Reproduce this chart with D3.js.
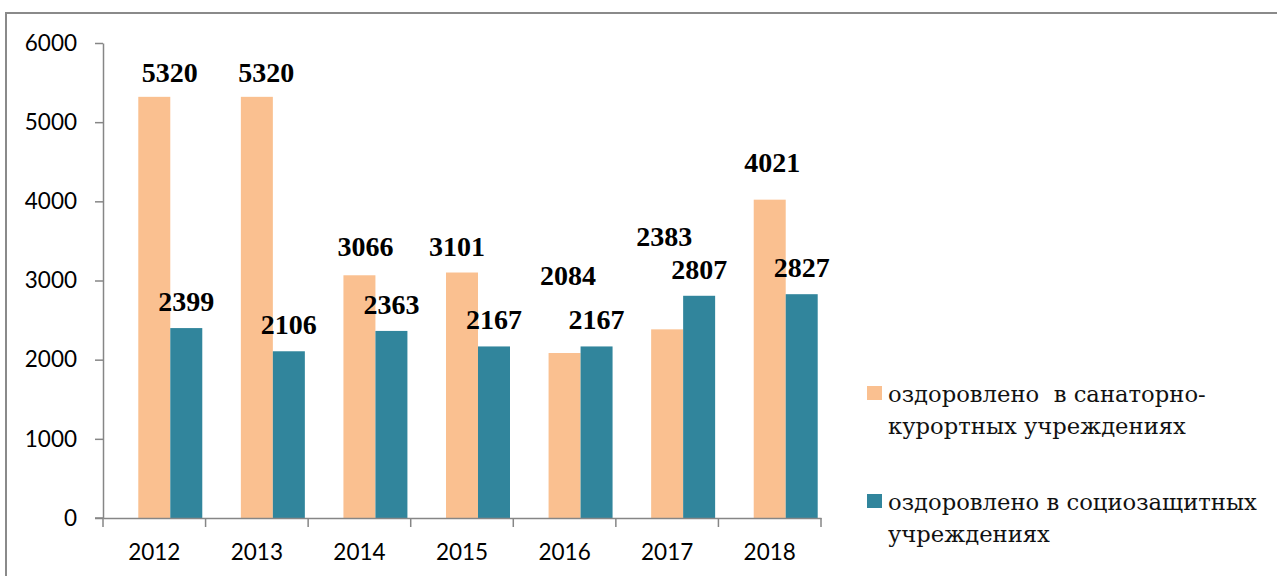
<!DOCTYPE html>
<html>
<head>
<meta charset="utf-8">
<script src="https://cdn.jsdelivr.net/npm/d3@7"></script>
<style>
  html, body { margin: 0; padding: 0; background: #fff; }
  svg { display: block; }
</style>
</head>
<body>
<svg id="chart" width="1277" height="576"></svg>
<script>
// ---- data ----
const years = ["2012", "2013", "2014", "2015", "2016", "2017", "2018"];
const sanatorium = [5320, 5320, 3066, 3101, 2084, 2383, 4021];
const social = [2399, 2106, 2363, 2167, 2167, 2807, 2827];
const yTicks = [0, 1000, 2000, 3000, 4000, 5000, 6000];
const seriesNames = [
  ["оздоровлено  в санаторно-", "курортных учреждениях"],
  ["оздоровлено в социозащитных", "учреждениях"]
];
// ---- layout (label nudges, px) ----
const sanLabelDx = [15.5, 9.5, 6, -5, 3.5, -3, 2.5];
const sanLabelDy = [2, 2, -2, 0, -51, -66, -10.5];

const colors = ["#FAC090", "#31859C"];
const axisColor = "#868686";

const svg = d3.select("#chart");

// frame
svg.append("path")
  .attr("d", "M6,577 L6,13 L1278,13")
  .attr("fill", "none").attr("stroke", "#8a8a8a").attr("stroke-width", 2);

const x = d3.scaleBand().domain(years).range([103, 821]).paddingInner(0).paddingOuter(0);
const inner = d3.scaleBand().domain(["empty", "san", "soc"]).range([0, x.bandwidth()])
  .paddingInner(0).paddingOuter(0.103);
const y = d3.scaleLinear().domain([0, 6000]).range([518, 43]);

// bars
const rows = years.map((yr, i) => ({ yr, i, san: sanatorium[i], soc: social[i] }));
const g = svg.append("g");
[["san", 0], ["soc", 1]].forEach(([key, ci]) => {
  g.selectAll("rect." + key).data(rows).enter().append("rect")
    .attr("class", key)
    .attr("x", d => x(d.yr) + inner(key))
    .attr("width", inner.bandwidth())
    .attr("y", d => y(d[key]))
    .attr("height", d => y(0) - y(d[key]))
    .attr("fill", colors[ci]);
});

// y axis
const yAxis = svg.append("g").attr("transform", "translate(103,0)")
  .call(d3.axisLeft(y).tickValues(yTicks).tickSize(8).tickSizeOuter(0).tickPadding(18).tickFormat(d3.format("d")));
yAxis.select(".domain").attr("stroke", axisColor).attr("stroke-width", 1.5);
yAxis.selectAll(".tick line").attr("stroke", axisColor).attr("stroke-width", 1.5);
yAxis.selectAll(".tick text")
  .attr("font-family", "Lato, 'Open Sans', sans-serif").attr("font-size", 22.5).attr("fill", "#000");

// x axis
const xAxis = svg.append("g").attr("transform", "translate(0,518)")
  .call(d3.axisBottom(x).tickSize(0).tickSizeOuter(0).tickPadding(0));
xAxis.select(".domain").attr("stroke", axisColor).attr("stroke-width", 1.5);
xAxis.selectAll(".tick text")
  .attr("font-family", "Lato, 'Open Sans', sans-serif").attr("font-size", 22.5).attr("fill", "#000")
  .attr("dy", null).attr("y", 42);
const bounds = years.map(yr => x(yr)).concat([x(years[years.length - 1]) + x.bandwidth()]);
xAxis.selectAll("line.sep").data(bounds).enter().append("line")
  .attr("class", "sep")
  .attr("x1", d => d).attr("x2", d => d).attr("y1", 0).attr("y2", 9)
  .attr("stroke", axisColor).attr("stroke-width", 1.5);
svg.append("line").attr("x1", 95).attr("x2", 103).attr("y1", 518).attr("y2", 518)
  .attr("stroke", axisColor).attr("stroke-width", 1.5);

// data labels
const labelFont = "'Liberation Serif', 'Times New Roman', serif";
g.selectAll("text.lsan").data(rows).enter().append("text")
  .attr("class", "lsan")
  .attr("x", d => x(d.yr) + inner("san") + inner.bandwidth() / 2 + sanLabelDx[d.i])
  .attr("y", d => y(d.san) - 17 + sanLabelDy[d.i])
  .attr("text-anchor", "middle")
  .attr("font-family", labelFont).attr("font-weight", "bold").attr("font-size", 28)
  .text(d => d.san);
g.selectAll("text.lsoc").data(rows).enter().append("text")
  .attr("class", "lsoc")
  .attr("x", d => x(d.yr) + inner("soc") + inner.bandwidth() / 2)
  .attr("y", d => y(d.soc) - 17)
  .attr("text-anchor", "middle")
  .attr("font-family", labelFont).attr("font-weight", "bold").attr("font-size", 28)
  .text(d => d.soc);

// legend
const legend = svg.append("g");
const legendTop = [386, 494];
seriesNames.forEach((lines, k) => {
  legend.append("rect")
    .attr("x", 867).attr("y", legendTop[k]).attr("width", 15).attr("height", 14)
    .attr("fill", colors[k]);
  lines.forEach((t, j) => {
    legend.append("text")
      .attr("x", 888).attr("y", legendTop[k] + 16 + j * 31.5)
      .attr("font-family", "'DejaVu Serif', serif").attr("font-size", 22.7)
      .attr("fill", "#111")
      .style("white-space", "pre")
      .text(t);
  });
});
</script>
</body>
</html>
